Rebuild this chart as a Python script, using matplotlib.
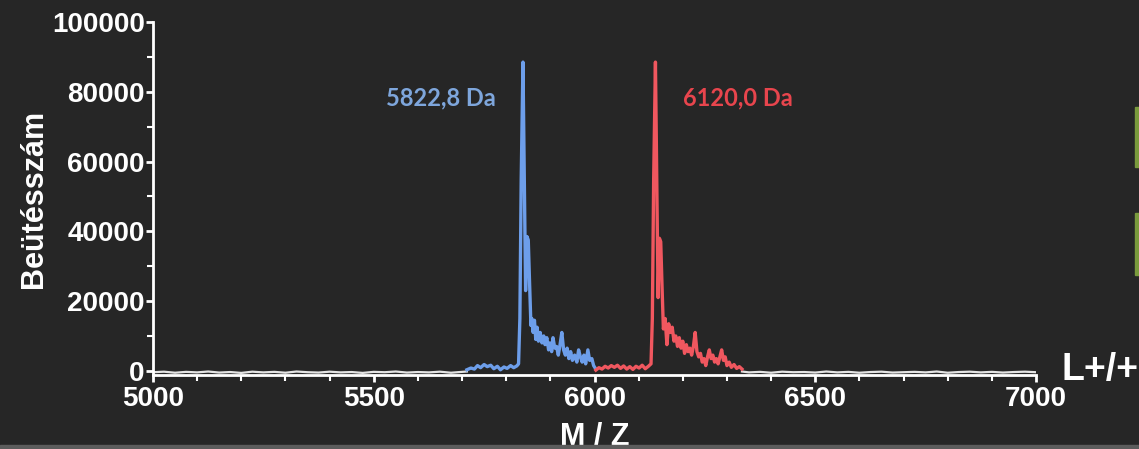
import matplotlib.pyplot as plt
from matplotlib.patches import Rectangle
from matplotlib.ticker import MultipleLocator

BG = '#262626'
BLUE = '#6d9eea'
RED = '#f0575f'

# wild type spectrum (5822,8 Da)
blue_mz = [5711, 5720, 5728, 5735, 5742, 5750, 5757, 5765, 5772, 5780, 5787, 5795,
           5802, 5810, 5817, 5824, 5828, 5831, 5834, 5838, 5841, 5844, 5847, 5850,
           5853, 5856, 5858, 5861, 5864, 5867, 5870, 5873, 5877, 5881, 5885, 5888,
           5892, 5896, 5899, 5903, 5906, 5910, 5914, 5918, 5922, 5926, 5930, 5934,
           5938, 5942, 5946, 5950, 5955, 5960, 5964, 5968, 5972, 5976, 5980, 5985,
           5989, 5994, 5998, 6003]
blue_counts = [300, 800, 500, 1500, 900, 1800, 1200, 1600, 600, 1300, 300, 1100,
               700, 1500, 900, 1400, 2000, 15000, 55000, 88500, 55000, 23000, 38500, 37500,
               25000, 13000, 15000, 11000, 14500, 9000, 12500, 8500, 11000, 8000, 10000, 7500,
               9500, 6000, 8000, 5500, 9500, 6500, 7000, 4500, 7500, 11000, 6000, 4500,
               6500, 3500, 5500, 3000, 4500, 2500, 6000, 4000, 2500, 4500, 2000, 6000,
               3000, 3500, 1500, 500]

# modified spectrum (6120,0 Da)
red_mz = [6003, 6010, 6017, 6024, 6031, 6038, 6045, 6052, 6059, 6066, 6073, 6080,
          6087, 6094, 6101, 6108, 6115, 6122, 6128, 6131, 6134, 6138, 6141, 6144,
          6147, 6150, 6153, 6156, 6160, 6164, 6168, 6172, 6176, 6180, 6184, 6188,
          6192, 6196, 6200, 6204, 6208, 6212, 6216, 6220, 6224, 6228, 6232, 6236,
          6240, 6244, 6248, 6252, 6256, 6260, 6264, 6268, 6272, 6276, 6280, 6284,
          6288, 6292, 6296, 6300, 6305, 6310, 6316, 6322, 6328, 6334]
red_counts = [200, 900, 500, 1300, 800, 1500, 1000, 1600, 700, 1400, 500, 1200,
              400, 1300, 800, 1600, 600, 1300, 2000, 15000, 55000, 88500, 55000, 21000,
              38000, 37000, 24000, 12000, 15000, 7500, 13500, 11000, 12500, 8500, 10000, 7000,
              9500, 6500, 8500, 5000, 7500, 5500, 6500, 4500, 7000, 11000, 5500, 4000,
              5000, 2500, 3500, 1500, 4000, 6000, 3500, 4500, 2500, 3500, 2000, 4000,
              6000, 3000, 4000, 1500, 2500, 1000, 1800, 700, 1200, 500]

# flat noise outside the peaks
base_left_mz = [5000, 5025, 5050, 5075, 5100, 5125, 5150, 5175, 5200, 5225, 5250,
                5275, 5300, 5325, 5350, 5375, 5400, 5425, 5450, 5475, 5500, 5525,
                5550, 5575, 5600, 5625, 5650, 5675, 5700, 5711]
base_left_counts = [-400, -250, -550, -300, -450, -200, -500, -350, -600, -250, -450,
                    -300, -550, -200, -400, -500, -250, -450, -350, -600, -300, -400,
                    -200, -500, -350, -450, -250, -550, -300, -200]
base_right_mz = [6334, 6350, 6375, 6400, 6425, 6450, 6475, 6500, 6525, 6550, 6575,
                 6600, 6625, 6650, 6675, 6700, 6725, 6750, 6775, 6800, 6825, 6850,
                 6875, 6900, 6925, 6950, 6975, 7000]
base_right_counts = [-200, -450, -300, -550, -250, -400, -350, -500, -200, -450, -300,
                     -550, -350, -250, -500, -400, -300, -450, -200, -550, -350, -250,
                     -450, -300, -500, -350, -250, -400]

xticks = [5000, 5500, 6000, 6500, 7000]
yticks = [0, 20000, 40000, 60000, 80000, 100000]

plt.rcParams['font.family'] = ['Liberation Sans', 'DejaVu Sans']
plt.rcParams['font.weight'] = 'bold'

fig = plt.figure(figsize=(11.39, 4.49), dpi=100, facecolor=BG)
ax = fig.add_axes([0.1343, 0.1648, 0.9096 - 0.1343, 0.951 - 0.1648])
ax.set_facecolor(BG)

ax.plot(base_left_mz, base_left_counts, color='#e4e4e4', lw=1.6)
ax.plot(base_right_mz, base_right_counts, color='#e4e4e4', lw=1.6)
ax.plot(blue_mz, blue_counts, color=BLUE, lw=2.4)
ax.plot(red_mz, red_counts, color=RED, lw=2.4)

ax.set_xlim(5000, 7000)
ax.set_ylim(-1200, 100000)
ax.set_xticks(xticks)
ax.set_yticks(yticks)
ax.xaxis.set_minor_locator(MultipleLocator(100))
ax.yaxis.set_minor_locator(MultipleLocator(10000))

for side in ['top', 'right']:
    ax.spines[side].set_visible(False)
for side in ['left', 'bottom']:
    ax.spines[side].set_color('white')
    ax.spines[side].set_linewidth(2)

ax.tick_params(which='major', colors='white', length=5, width=2, labelsize=20, pad=1)
ax.tick_params(which='minor', colors='white', length=4, width=1.5)
ax.tick_params(axis='x', which='major', pad=3)
for lbl in ax.get_xticklabels() + ax.get_yticklabels():
    lbl.set_fontweight('bold')

ax.set_xlabel('M / Z', color='white', fontsize=22, fontweight='bold', labelpad=7)
ax.set_ylabel('Beütésszám', color='white', fontsize=22, fontweight='bold', labelpad=2)

ax.text(5528, 78200, '5822,8 Da', color='#7ea6dc', fontsize=17, fontweight='bold',
        family='Lato', ha='left', va='center')
ax.text(6200, 78200, '6120,0 Da', color='#e8454d', fontsize=17, fontweight='bold',
        family='Lato', ha='left', va='center')

fig.text(0.932, 0.176, 'L+/+', color='white', fontsize=27, fontweight='bold',
         ha='left', va='center')

# side markers and bottom strip
fig.patches.append(Rectangle((0.9965, 0.628), 0.01, 0.134, transform=fig.transFigure,
                             color='#7a9a3c', zorder=0))
fig.patches.append(Rectangle((0.9965, 0.3875), 0.01, 0.138, transform=fig.transFigure,
                             color='#7a9a3c', zorder=0))
fig.patches.append(Rectangle((0, 0), 1, 4 / 449, transform=fig.transFigure,
                             color='#5c5c5c', zorder=3))

fig.savefig('out.png', dpi=100, facecolor=BG)
